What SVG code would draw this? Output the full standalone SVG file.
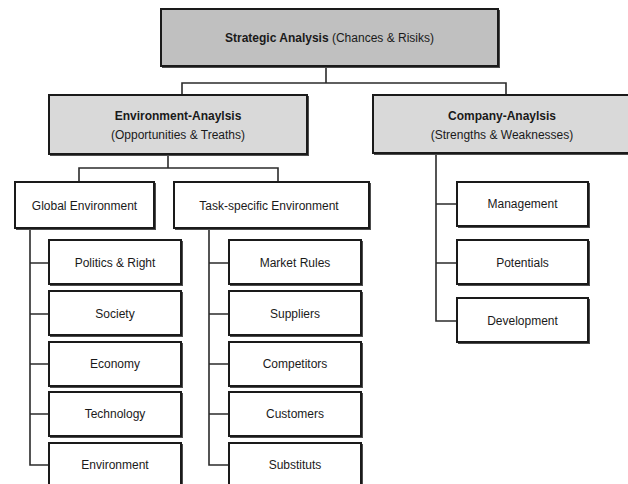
<svg xmlns="http://www.w3.org/2000/svg" width="628" height="484" viewBox="0 0 628 484">
  <style>
    .box { stroke: #1a1a1a; stroke-width: 2; }
    .shadow { fill: #4d4d4d; }
    .lvl0 { fill: #c0c0c0; }
    .lvl1 { fill: #d9d9d9; }
    .leaf { fill: #ffffff; }
    .wire { fill: none; stroke: #2b2b2b; stroke-width: 1.6; }
    text { font-family: "Liberation Sans", Arial, sans-serif; font-size: 12px; fill: #1a1a1a; text-anchor: middle; dominant-baseline: central; }
    .b { font-weight: bold; }
  </style>
  <rect width="628" height="484" fill="#ffffff"/>

  <!-- connectors -->
  <g id="connectors">
    <path class="wire" d="M326 66 V83 M182 95 V83 H506 V95"/>
    <path class="wire" d="M168 154 V168 M79 182 V168 H278 V182"/>
    <path class="wire" d="M30 228 V465 H49 M30 263 H49 M30 314 H49 M30 364 H49 M30 414 H49"/>
    <path class="wire" d="M209 228 V465 H229 M209 263 H229 M209 314 H229 M209 364 H229 M209 414 H229"/>
    <path class="wire" d="M436 153 V321 H457 M436 204 H457 M436 263 H457"/>
  </g>

  <!-- root -->
  <g id="strategic-analysis">
    <rect class="shadow" x="162" y="10" width="338" height="58"/>
    <rect class="box lvl0" x="161" y="9" width="337" height="57"/>
    <text x="329.5" y="38"><tspan class="b">Strategic Analysis</tspan> (Chances &amp; Risiks)</text>
  </g>

  <!-- second level -->
  <g id="environment-analysis">
    <rect class="shadow" x="50" y="96" width="259" height="60"/>
    <rect class="box lvl1" x="49" y="95" width="258" height="59"/>
    <text class="b" x="178" y="116">Environment-Anaylsis</text>
    <text x="178" y="135">(Opportunities &amp; Treaths)</text>
  </g>
  <g id="company-analysis">
    <rect class="shadow" x="374" y="96" width="261" height="59"/>
    <rect class="box lvl1" x="373" y="95" width="260" height="58"/>
    <text class="b" x="502" y="116">Company-Anaylsis</text>
    <text x="502" y="135">(Strengths &amp; Weaknesses)</text>
  </g>

  <!-- third level -->
  <g id="global-environment">
    <rect class="shadow" x="16" y="183" width="140" height="47"/>
    <rect class="box leaf" x="15" y="182" width="139" height="46"/>
    <text x="84.5" y="206">Global Environment</text>
  </g>
  <g id="task-specific-environment">
    <rect class="shadow" x="175" y="183" width="196" height="47"/>
    <rect class="box leaf" x="174" y="182" width="195" height="46"/>
    <text x="269" y="206">Task-specific Environment</text>
  </g>

  <!-- global environment factors -->
  <g id="politics-right">
    <rect class="shadow" x="50" y="241" width="133" height="45"/>
    <rect class="box leaf" x="49" y="240" width="132" height="44"/>
    <text x="115" y="263">Politics &amp; Right</text>
  </g>
  <g id="society">
    <rect class="shadow" x="50" y="292" width="133" height="45"/>
    <rect class="box leaf" x="49" y="291" width="132" height="44"/>
    <text x="115" y="314">Society</text>
  </g>
  <g id="economy">
    <rect class="shadow" x="50" y="343" width="133" height="45"/>
    <rect class="box leaf" x="49" y="342" width="132" height="44"/>
    <text x="115" y="364">Economy</text>
  </g>
  <g id="technology">
    <rect class="shadow" x="50" y="393" width="133" height="45"/>
    <rect class="box leaf" x="49" y="392" width="132" height="44"/>
    <text x="115" y="414">Technology</text>
  </g>
  <g id="environment">
    <rect class="shadow" x="50" y="444" width="133" height="45"/>
    <rect class="box leaf" x="49" y="443" width="132" height="44"/>
    <text x="115" y="465">Environment</text>
  </g>

  <!-- task-specific factors -->
  <g id="market-rules">
    <rect class="shadow" x="230" y="241" width="133" height="45"/>
    <rect class="box leaf" x="229" y="240" width="132" height="44"/>
    <text x="295" y="263">Market Rules</text>
  </g>
  <g id="suppliers">
    <rect class="shadow" x="230" y="292" width="133" height="45"/>
    <rect class="box leaf" x="229" y="291" width="132" height="44"/>
    <text x="295" y="314">Suppliers</text>
  </g>
  <g id="competitors">
    <rect class="shadow" x="230" y="343" width="133" height="45"/>
    <rect class="box leaf" x="229" y="342" width="132" height="44"/>
    <text x="295" y="364">Competitors</text>
  </g>
  <g id="customers">
    <rect class="shadow" x="230" y="393" width="133" height="45"/>
    <rect class="box leaf" x="229" y="392" width="132" height="44"/>
    <text x="295" y="414">Customers</text>
  </g>
  <g id="substituts">
    <rect class="shadow" x="230" y="444" width="133" height="45"/>
    <rect class="box leaf" x="229" y="443" width="132" height="44"/>
    <text x="295" y="465">Substituts</text>
  </g>

  <!-- company factors -->
  <g id="management">
    <rect class="shadow" x="458" y="183" width="132" height="45"/>
    <rect class="box leaf" x="457" y="182" width="131" height="44"/>
    <text x="522.5" y="204">Management</text>
  </g>
  <g id="potentials">
    <rect class="shadow" x="458" y="241" width="132" height="45"/>
    <rect class="box leaf" x="457" y="240" width="131" height="44"/>
    <text x="522.5" y="263">Potentials</text>
  </g>
  <g id="development">
    <rect class="shadow" x="458" y="299" width="132" height="45"/>
    <rect class="box leaf" x="457" y="298" width="131" height="44"/>
    <text x="522.5" y="321">Development</text>
  </g>
</svg>
